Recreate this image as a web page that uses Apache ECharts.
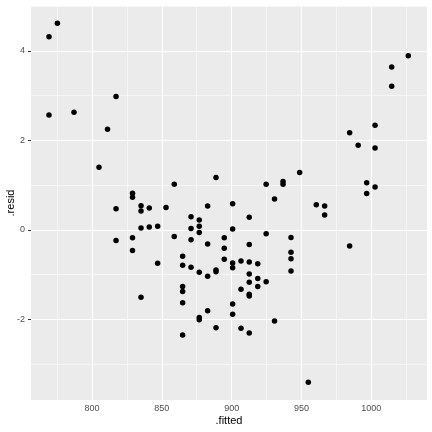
<!DOCTYPE html>
<html>
<head>
<meta charset="utf-8">
<script src="https://cdn.jsdelivr.net/npm/echarts@6/dist/echarts.min.js"></script>
<style>
html,body{margin:0;padding:0;background:#fff;}
#chart{width:432px;height:432px;}
</style>
</head>
<body>
<div id="chart"></div>
<script>
// Data
var fitted = [769.2, 775.2, 769.2, 787.1, 817.2, 811.1, 805.0, 858.9, 829.0, 829.0,
  835.1, 835.1, 841.0, 853.0, 817.2, 882.8, 888.8, 870.9, 817.2, 829.0,
  829.0, 835.1, 841.0, 847.0, 858.9, 870.9, 870.9, 876.8, 876.8, 876.8,
  882.8, 864.9, 864.9, 847.0, 870.9, 876.8, 882.8, 888.8, 888.8, 864.9,
  864.9, 864.9, 835.1, 882.8, 876.8, 876.8, 864.9, 888.8, 912.6, 900.7,
  924.7, 894.7, 942.5, 894.7, 912.6, 984.5, 942.5, 942.5, 894.7, 900.7,
  900.7, 906.7, 912.6, 918.7, 942.5, 912.6, 918.7, 912.6, 924.7, 918.7,
  906.7, 912.6, 912.6, 900.7, 900.7, 930.7, 906.7, 912.6, 954.9, 900.7,
  924.7, 930.7, 936.8, 936.8, 948.7, 960.6, 966.6, 966.6, 984.5, 990.6,
  996.7, 996.7, 1002.7, 1002.7, 1002.7, 1014.6, 1014.6, 1026.5];
var resid = [4.32, 4.62, 2.57, 2.63, 2.98, 2.25, 1.40, 1.02, 0.82, 0.73,
  0.54, 0.42, 0.49, 0.50, 0.47, 0.53, 1.17, 0.29, -0.24, -0.18,
  -0.46, 0.04, 0.06, 0.08, -0.15, 0.03, -0.22, 0.22, 0.08, -0.06,
  -0.32, -0.59, -0.79, -0.75, -0.84, -0.95, -1.04, -0.90, -0.94, -1.27,
  -1.38, -1.63, -1.51, -1.81, -1.96, -2.01, -2.35, -2.19, 0.28, 0.02,
  -0.09, -0.18, -0.17, -0.41, -0.33, -0.36, -0.50, -0.65, -0.66, -0.74,
  -0.85, -0.70, -0.72, -0.76, -0.92, -0.99, -1.09, -1.17, -1.16, -1.27,
  -1.33, -1.44, -1.48, -1.66, -1.89, -2.04, -2.20, -2.31, -3.41, 0.58,
  1.02, 0.69, 1.08, 1.02, 1.28, 0.56, 0.53, 0.33, 2.17, 1.89,
  1.05, 0.81, 2.34, 1.83, 0.96, 3.64, 3.21, 3.89];
var xTicks = [800, 850, 900, 950, 1000];
var xMinor = [775, 825, 875, 925, 975, 1025];
var yTicks = [-2, 0, 2, 4];
var yMinor = [-3, -1, 1, 3, 5];

var points = fitted.map(function (f, i) { return [f, resid[i]]; });

var gridLines = [];
xTicks.forEach(function (v) { gridLines.push({ xAxis: v, lineStyle: { width: 1.1 } }); });
xMinor.forEach(function (v) { gridLines.push({ xAxis: v, lineStyle: { width: 0.55 } }); });
yTicks.forEach(function (v) { gridLines.push({ yAxis: v, lineStyle: { width: 1.1 } }); });
yMinor.forEach(function (v) { gridLines.push({ yAxis: v, lineStyle: { width: 0.55 } }); });

var font = '"Liberation Sans", Arial, sans-serif';
var chart = echarts.init(document.getElementById('chart'), null, { renderer: 'canvas' });
chart.setOption({
  animation: false,
  backgroundColor: '#ffffff',
  grid: {
    left: 31, right: 5, top: 6, bottom: 32,
    containLabel: false, outerBoundsMode: 'none',
    show: true, backgroundColor: '#EBEBEB', borderWidth: 0
  },
  xAxis: {
    type: 'value', min: 756.3, max: 1039.9,
    name: '.fitted', nameLocation: 'middle', nameGap: 15, nameMoveOverlap: false,
    nameTextStyle: { fontFamily: font, fontSize: 11, color: '#000' },
    axisLine: { show: false },
    axisTick: { show: true, length: 3, customValues: xTicks, lineStyle: { color: '#333333', width: 1 } },
    axisLabel: { customValues: xTicks, margin: 4, fontFamily: font, fontSize: 9, color: '#4D4D4D',
      formatter: function (v) { return String(v); } },
    splitLine: { show: false }
  },
  yAxis: {
    type: 'value', min: -3.806, max: 5.005,
    name: '.resid', nameLocation: 'middle', nameGap: 15, nameRotate: 90, nameMoveOverlap: false,
    nameTextStyle: { fontFamily: font, fontSize: 11, color: '#000' },
    axisLine: { show: false },
    axisTick: { show: true, length: 3, customValues: yTicks, lineStyle: { color: '#333333', width: 1 } },
    axisLabel: { customValues: yTicks, margin: 6, fontFamily: font, fontSize: 9, color: '#4D4D4D',
      formatter: function (v) { return String(v); } },
    splitLine: { show: false }
  },
  series: [
    {
      type: 'scatter', data: [], silent: true, z: 1,
      markLine: {
        silent: true, symbol: ['none', 'none'], animation: false,
        label: { show: false },
        lineStyle: { color: '#FFFFFF', type: 'solid' },
        emphasis: { disabled: true },
        data: gridLines
      }
    },
    {
      type: 'scatter', data: points, symbol: 'circle', symbolSize: 5.5, z: 5,
      itemStyle: { color: '#000000', opacity: 1 }
    }
  ]
});
</script>
</body>
</html>
